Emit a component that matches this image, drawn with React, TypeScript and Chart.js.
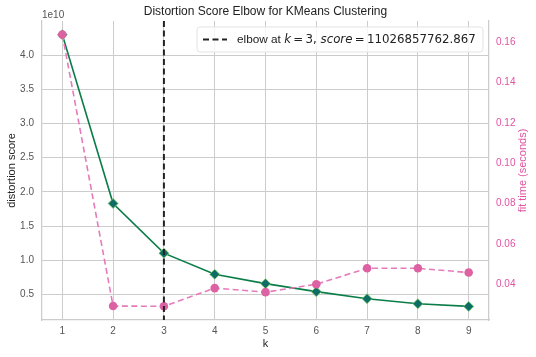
import React, { useEffect, useRef } from 'react';
import { Chart, registerables } from 'chart.js';

Chart.register(...registerables);

const kValues = [1, 2, 3, 4, 5, 6, 7, 8, 9];
const distortion = [4.30e10, 1.83e10, 1.1027e10, 0.794e10, 0.657e10, 0.54e10, 0.437e10, 0.363e10, 0.324e10];
const fitTime = [0.1638, 0.0293, 0.0292, 0.0382, 0.0362, 0.0401, 0.048, 0.048, 0.0459];
const leftTicks = [0.5e10, 1.0e10, 1.5e10, 2.0e10, 2.5e10, 3.0e10, 3.5e10, 4.0e10];
const rightTicks = [0.04, 0.06, 0.08, 0.1, 0.12, 0.14, 0.16];
const elbowK = 3;
const elbowScore = '11026857762.867';
const chartTitle = 'Distortion Score Elbow for KMeans Clustering';

const GREEN = '#0a7d48';
const GREEN_MARK = '#0e6e66';
const PINK_LINE = '#e57bbb';
const PINK_MARK = '#dd62a3';
const PINK_TEXT = '#e052a2';
const GRID = '#cccccc';
const TEXT = '#555555';
const SANS = '"Liberation Sans", Arial, sans-serif';
const MATH = '"DejaVu Sans", sans-serif';

const overlay = {
  id: 'overlay',
  afterDatasetsDraw(chart: any) {
    const { ctx, chartArea, scales } = chart;
    const x = scales.x;
    ctx.save();
    const px = x.getPixelForValue(elbowK);
    ctx.strokeStyle = '#222222';
    ctx.lineWidth = 2;
    ctx.setLineDash([6, 3.5]);
    ctx.beginPath();
    ctx.moveTo(px, chartArea.top);
    ctx.lineTo(px, chartArea.bottom);
    ctx.stroke();
    ctx.setLineDash([]);

    const bx = 197, by = 27, bw = 286, bh = 25, r = 3;
    ctx.fillStyle = 'rgba(255,255,255,0.8)';
    ctx.strokeStyle = '#e3e3e3';
    ctx.lineWidth = 1;
    ctx.beginPath();
    ctx.moveTo(bx + r, by);
    ctx.lineTo(bx + bw - r, by);
    ctx.quadraticCurveTo(bx + bw, by, bx + bw, by + r);
    ctx.lineTo(bx + bw, by + bh - r);
    ctx.quadraticCurveTo(bx + bw, by + bh, bx + bw - r, by + bh);
    ctx.lineTo(bx + r, by + bh);
    ctx.quadraticCurveTo(bx, by + bh, bx, by + bh - r);
    ctx.lineTo(bx, by + r);
    ctx.quadraticCurveTo(bx, by, bx + r, by);
    ctx.closePath();
    ctx.fill();
    ctx.stroke();

    const cy = by + bh / 2;
    ctx.strokeStyle = '#222222';
    ctx.lineWidth = 2;
    ctx.setLineDash([6, 3.5]);
    ctx.beginPath();
    ctx.moveTo(203, cy);
    ctx.lineTo(227, cy);
    ctx.stroke();
    ctx.setLineDash([]);

    const parts: [string, string][] = [
      ['elbow at ', 'n'],
      ['k', 'i'],
      ['\u2009=\u2009' + elbowK + ', ', 'm'],
      ['score', 'i'],
      ['\u2009=\u2009' + elbowScore, 'm'],
    ];
    const fontFor = (t: string, s: number) =>
      t === 'n' ? `${s}px ${SANS}` : t === 'i' ? `oblique ${s}px ${MATH}` : `${s}px ${MATH}`;
    const measure = (s: number) => {
      let w = 0;
      for (const [str, t] of parts) {
        ctx.font = fontFor(t, s);
        w += ctx.measureText(str).width;
      }
      return w;
    };
    const target = 239;
    let size = 12.5;
    size = size * target / measure(size);
    let tx = 237;
    ctx.fillStyle = '#222222';
    ctx.textBaseline = 'middle';
    ctx.textAlign = 'left';
    for (const [str, t] of parts) {
      ctx.font = fontFor(t, size);
      ctx.fillText(str, tx, cy + 0.5);
      tx += ctx.measureText(str).width;
    }

    ctx.save();
    ctx.translate(523, (chartArea.top + chartArea.bottom) / 2);
    ctx.rotate(-Math.PI / 2);
    ctx.font = `11px ${SANS}`;
    ctx.fillStyle = PINK_TEXT;
    ctx.textAlign = 'center';
    ctx.textBaseline = 'middle';
    ctx.fillText('fit time (seconds)', 0, 0);
    ctx.restore();

    ctx.font = `10px ${SANS}`;
    ctx.fillStyle = TEXT;
    ctx.textAlign = 'left';
    ctx.textBaseline = 'middle';
    ctx.fillText('1e10', 42, 15);
    ctx.restore();
  },
};

export default function App() {
  const ref = useRef<HTMLCanvasElement>(null);
  useEffect(() => {
    if (!ref.current) return;
    const chart = new Chart(ref.current, {
      type: 'line',
      data: {
        datasets: [
          {
            label: 'distortion',
            data: kValues.map((k, i) => ({ x: k, y: distortion[i] })),
            yAxisID: 'y',
            borderColor: GREEN,
            borderWidth: 1.6,
            backgroundColor: GREEN_MARK,
            pointStyle: 'rectRot',
            pointRadius: 5,
            pointBorderColor: '#7fcf6a',
            pointBorderWidth: 0.8,
            pointBackgroundColor: GREEN_MARK,
            order: 2,
            tension: 0,
          },
          {
            label: 'fit time',
            data: kValues.map((k, i) => ({ x: k, y: fitTime[i] })),
            yAxisID: 'y2',
            borderColor: PINK_LINE,
            borderWidth: 1.6,
            borderDash: [6, 3.5],
            pointStyle: 'circle',
            pointRadius: 4.3,
            pointBorderWidth: 0,
            pointBackgroundColor: PINK_MARK,
            backgroundColor: PINK_MARK,
            order: 1,
            tension: 0,
          },
        ],
      },
      options: {
        animation: false,
        responsive: false,
        layout: { padding: 0 },
        plugins: {
          legend: { display: false },
          tooltip: { enabled: false },
          title: {
            display: true,
            text: chartTitle,
            fullSize: false,
            color: '#222222',
            font: { family: SANS, size: 12, weight: 'normal' },
            padding: { top: 4.5, bottom: 2.1 },
          },
        },
        scales: {
          x: {
            type: 'linear',
            min: 0.6,
            max: 9.4,
            afterBuildTicks: (s: any) => { s.ticks = kValues.map((v) => ({ value: v })); },
            afterFit: (s: any) => { s.height = 37; },
            grid: { color: GRID, lineWidth: 1, drawTicks: false },
            border: { color: GRID, width: 1.25 },
            ticks: { color: TEXT, font: { family: SANS, size: 10 }, padding: 5, callback: (v: any) => String(v) },
            title: { display: true, text: 'k', color: '#222222', font: { family: SANS, size: 11 }, padding: { top: 6, bottom: 6 } },
          },
          y: {
            type: 'linear',
            position: 'left',
            min: 0.125e10,
            max: 4.5e10,
            afterBuildTicks: (s: any) => { s.ticks = leftTicks.map((v) => ({ value: v })); },
            afterFit: (s: any) => { s.width = 42; },
            grid: { color: GRID, lineWidth: 1, drawTicks: false },
            border: { color: GRID, width: 1.25 },
            ticks: { color: TEXT, font: { family: SANS, size: 10 }, padding: 8, callback: (v: any) => (v / 1e10).toFixed(1) },
            title: { display: true, text: 'distortion score', color: '#222222', font: { family: SANS, size: 11 }, padding: { top: 5, bottom: 0 } },
          },
          y2: {
            type: 'linear',
            position: 'right',
            min: 0.0224,
            max: 0.1705,
            afterBuildTicks: (s: any) => { s.ticks = rightTicks.map((v) => ({ value: v })); },
            afterFit: (s: any) => { s.width = 47; },
            grid: { display: false, drawTicks: false },
            border: { color: GRID, width: 1.25 },
            ticks: { color: PINK_TEXT, font: { family: SANS, size: 10 }, padding: 7, callback: (v: any) => Number(v).toFixed(2) },
          },
        },
      },
      plugins: [overlay],
    } as any);
    return () => chart.destroy();
  }, []);
  return (
    <div style={{ position: 'fixed', left: 0, top: 0, width: 536, height: 357, background: '#ffffff' }}>
      <canvas ref={ref} width={536} height={357} style={{ display: 'block' }} />
    </div>
  );
}
